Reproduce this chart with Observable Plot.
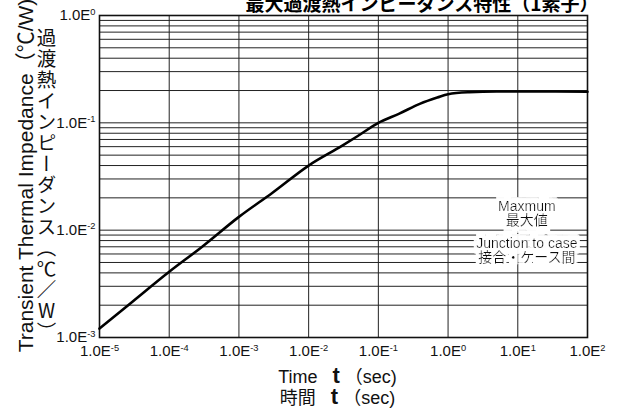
<!DOCTYPE html>
<html><head><meta charset="utf-8">
<script src="https://cdn.jsdelivr.net/npm/d3@7"></script>
<script src="https://cdn.jsdelivr.net/npm/@observablehq/plot@0.6"></script>
<style>
html,body{margin:0;padding:0;background:#fff;}
svg{display:block;}
</style>
</head><body><div id="chart"></div>
<script>
// ---- data ----
const time = [1e-5, 3e-5, 1e-4, 3e-4, 1e-3, 3e-3, 1e-2, 3e-2, 5e-2, 1e-1, 2e-1, 4e-1, 7e-1, 1, 2, 5, 20, 100];
const impedance = [0.00121, 0.00217, 0.0041, 0.00705, 0.0133, 0.0222, 0.040, 0.061, 0.075, 0.100, 0.122, 0.151, 0.172, 0.185, 0.193, 0.196, 0.196, 0.195];
const xTicks = [1e-5, 1e-4, 1e-3, 1e-2, 1e-1, 1e0, 1e1, 1e2];
const yTicks = [1e-3, 1e-2, 1e-1, 1e0];
const yMinor = [1, 2, 3, 4, 5, 6, 7, 8, 9];
const yGrid = yTicks.slice(0, 3).flatMap(d => yMinor.map(m => m * d)).concat([1]);
const noteTime = [13.5, 13.5];
const noteZ = [0.0143, 0.0064];
const noteText = ["Maxmum\n最大値", "Junction to case\n接合・ケース間"];
const titleText = "最大過渡熱インピーダンス特性（1素子）";
const yTitleEn = "Transient Thermal Impedance（℃/W)";
const yTitleJa = "過渡熱インピーダンス（℃／W）";
const xTitleEn = "Time t （sec)";
const xTitleJa = "時間 t （sec)";

const FONT = '"Liberation Sans", Arial, "Noto Sans CJK JP", sans-serif';
const CJK = '"Noto Sans CJK JP", sans-serif';
const fmt = d => "1.0E" + Math.round(Math.log10(d));

const svg = Plot.plot({
  width: 617, height: 414,
  marginLeft: 99, marginRight: 30, marginTop: 15, marginBottom: 77,
  style: {fontFamily: FONT, fontSize: "15px", color: "#111", background: "#fff", overflow: "visible"},
  x: {type: "log", domain: [1e-5, 1e2], ticks: xTicks, tickFormat: fmt, tickSize: 0, tickPadding: 8, label: null},
  y: {type: "log", domain: [1e-3, 1], ticks: yTicks, tickFormat: fmt, tickSize: 0, tickPadding: 4, label: null},
  marks: [
    Plot.ruleY(yGrid, {stroke: "#222", strokeWidth: 1}),
    Plot.ruleX(xTicks, {stroke: "#222", strokeWidth: 1}),
    Plot.frame({stroke: "#111", strokeWidth: 1.6}),
    Plot.line(time, {x: time, y: impedance, stroke: "#000", strokeWidth: 2.6, curve: "monotone-x"}),
    Plot.text(noteText, {x: noteTime, y: noteZ, text: noteText, fontSize: 14, lineHeight: 1, fill: "#111"}),
    Plot.text([titleText], {frameAnchor: "top", dx: 78.5, dy: -5, lineAnchor: "bottom", fontSize: 19, fontWeight: "bold", fontFamily: CJK, fill: "#000"}),
    Plot.text([yTitleEn], {frameAnchor: "left", textAnchor: "middle", rotate: -90, dx: -66.5, dy: -1, lineAnchor: "bottom", fontSize: 21, fill: "#111"}),
    Plot.text([yTitleJa], {frameAnchor: "left", textAnchor: "middle", dx: -53, dy: 9, lineAnchor: "bottom", fontSize: 19.5, fontFamily: CJK, fill: "#111"}),
    Plot.text([xTitleEn], {frameAnchor: "bottom", dx: -6, dy: 45, lineAnchor: "bottom", fontSize: 18, fill: "#111"}),
    Plot.text([xTitleJa], {frameAnchor: "bottom", dx: -6, dy: 66, lineAnchor: "bottom", fontSize: 18, fill: "#111"})
  ]
});
document.getElementById("chart").appendChild(svg);

// white box filter behind the notes (masks the grid like the reference)
const defs = d3.select(svg).insert("defs", ":first-child");
const f = defs.append("filter").attr("id", "notebox")
  .attr("x", "-10%").attr("y", "-40%").attr("width", "120%").attr("height", "180%");
f.append("feMorphology").attr("in", "SourceAlpha").attr("operator", "dilate").attr("radius", "2.5 6").attr("result", "d");
f.append("feFlood").attr("flood-color", "white").attr("result", "w");
f.append("feComposite").attr("in", "w").attr("in2", "d").attr("operator", "in").attr("result", "bg");
const mg = f.append("feMerge");
mg.append("feMergeNode").attr("in", "bg");
mg.append("feMergeNode").attr("in", "SourceGraphic");

const noteFlat = noteText.map(s => s.replace("\n", ""));
d3.select(svg).selectAll("text").each(function () {
  const s = this.textContent;
  const t = d3.select(this);
  if (noteFlat.includes(s)) { t.attr("filter", "url(#notebox)"); return; }
  // superscript exponents on tick labels
  const m = /^1\.0E(-?\d+)$/.exec(s);
  if (m) {
    t.style("font-size", "15px");
    t.text(null);
    t.append("tspan").text("1.0E");
    t.append("tspan").attr("font-size", "0.62em").attr("dy", "-0.6em").text(m[1]);
    return;
  }
  // vertical Japanese axis title
  if (s === yTitleJa) {
    t.style("writing-mode", "vertical-rl").style("text-orientation", "upright").style("letter-spacing", "1.5px");
    return;
  }
  // big "t" in x titles
  if (s === xTitleEn || s === xTitleJa) {
    const i = s.indexOf(" t ");
    t.text(null);
    t.append("tspan").text(s.slice(0, i) + "\u00A0\u00A0\u00A0");
    t.append("tspan").style("font-size", "22px").style("font-weight", "bold").text("t");
    t.append("tspan").text("\u00A0" + s.slice(i + 3));
  }
});
</script>
</body></html>
